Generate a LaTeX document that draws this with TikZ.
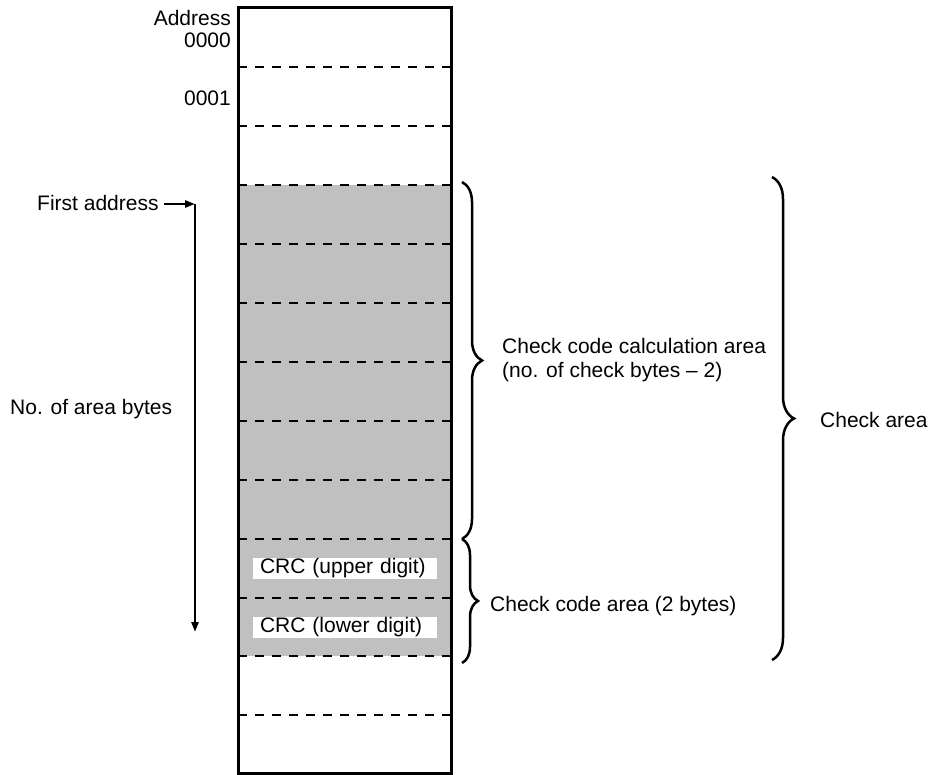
\documentclass[tikz,border=0pt]{standalone}
\usepackage{fontspec}
\setmainfont{Liberation Sans}
\usetikzlibrary{decorations.pathreplacing,arrows.meta}
\definecolor{areagray}{RGB}{192,192,192}
\begin{document}
\begin{tikzpicture}[x=1pt,y=-1pt,
  lbl/.style={font=\fontsize{21}{24}\selectfont, inner sep=0pt},
  rowline/.style={line width=2.6pt, dash pattern=on 9pt off 8pt},
  bracestyle/.style={line width=2.5pt, decorate, decoration={brace, amplitude=#1}},
  crcbox/.style={lbl, fill=white, minimum width=184pt, minimum height=21pt, text width=170pt, align=left, inner xsep=7pt, inner ysep=0pt},
  arr/.style={line width=2.5pt, -{Triangle[length=10pt,width=7pt]}}]
\useasboundingbox (0,0) rectangle (930,775);
% gray check area
\fill[areagray] (238,185) rectangle (451,656);
% dashed row separators
\foreach \yy in {67,126,185,244,303,362,421,480,539,598,656,715}
  \draw[rowline] (238,\yy) -- (451,\yy);
% CRC labels
\node[crcbox] (crcu) at (345,568.5) {CRC (upper digit)};
\node[crcbox] (crcl) at (345,627.5) {CRC (lower digit)};
% memory column
\draw[line width=3pt] (238,8) rectangle (451,773);
% address labels
\node[lbl, anchor=east] (addr) at (231,18) {Address};
\node[lbl, anchor=east] (a0) at (231,40) {0000};
\node[lbl, anchor=east] (a1) at (231,98) {0001};
% first address arrow
\node[lbl, anchor=west] (first) at (37,203) {First address};
\coordinate (corner) at (195,204);
\coordinate (arrend) at (195,632);
\draw[arr] ([xshift=5pt]first.east |- corner) -- (corner);
\draw[arr] (corner) -- (arrend);
\node[lbl, anchor=west] (nbytes) at (10,409) {No. of area bytes};
% braces
\coordinate (b1t) at (462,182);
\coordinate (b1b) at (462,539);
\coordinate (b2t) at (462,539);
\coordinate (b2b) at (462,663);
\coordinate (b3t) at (772,177);
\coordinate (b3b) at (772,660);
\draw[bracestyle=20pt] (b1t) -- (b1b);
\draw[bracestyle=16pt] (b2t) -- (b2b);
\draw[bracestyle=22pt] (b3t) -- (b3b);
\node[lbl, anchor=west, align=left] (calc) at (502,360) {Check code calculation area\\(no. of check bytes – 2)};
\node[lbl, anchor=west] (code) at (490,606) {Check code area (2 bytes)};
\node[lbl, anchor=west] (check) at (820,420) {Check area};
\end{tikzpicture}
\end{document}
